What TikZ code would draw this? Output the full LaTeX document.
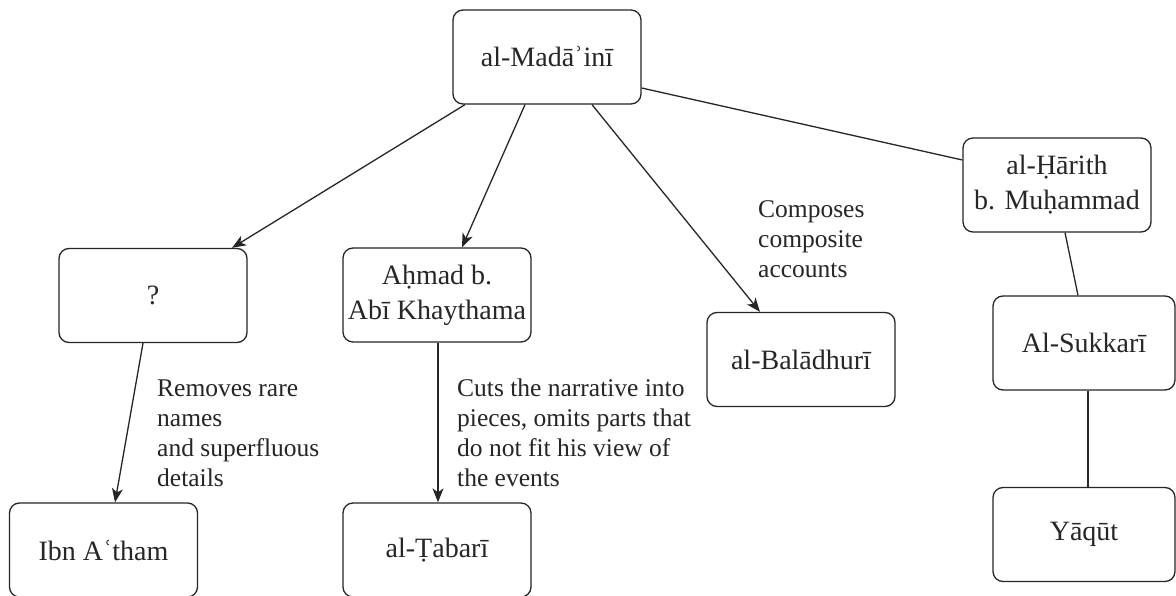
\documentclass[tikz,border=0pt]{standalone}
\usepackage{fontspec}
\setmainfont{Liberation Serif}
\usetikzlibrary{arrows.meta}
\begin{document}
\begin{tikzpicture}[x=1pt,y=-1pt,
  box/.style={draw=black!85, line width=1.3pt, rounded corners=10pt,
    minimum width=188pt, minimum height=94pt, inner sep=0pt, align=center,
    font=\fontsize{28}{35}\selectfont, text=black!85},
  conn/.style={draw=black!85, line width=1.3pt},
  arr/.style={conn, -{Stealth[length=14pt,width=11pt,inset=4pt]}},
  lbl/.style={anchor=base west, inner sep=0pt, font=\fontsize{25.5}{30}\selectfont, text=black!85}]
\useasboundingbox (0,0) rectangle (1176,596);
\fill[white] (0,0) rectangle (1176,596);

\node[box] (mad) at (547,57) {al-Madāʾinī};
\node[box] (q) at (153,295.5) {?};
\node[box] (ahm) at (437,295) {Aḥmad b.\\Abī Khaythama};
\node[box] (bal) at (801,359.5) {\raisebox{-4pt}{al-Balādhurī}};
\node[box] (har) at (1057,185) {al-Ḥārith\\b. Muḥammad};
\node[box, minimum width=182pt] (suk) at (1084,343) {Al-Sukkarī};
\node[box, minimum width=182pt] (yaq) at (1084,534.5) {Yāqūt};
\node[box] (iba) at (103.5,550) {Ibn Aʿtham};
\node[box] (tab) at (437,550) {al-Ṭabarī};

\draw[arr] ([xshift=-82pt]mad.south) -- ([xshift=79pt]q.north);
\draw[arr] ([xshift=-22pt]mad.south) -- ([xshift=25pt]ahm.north);
\draw[arr] ([xshift=45pt]mad.south) -- ([xshift=-41pt]bal.north);
\draw[conn] ([yshift=-31pt]mad.east) -- ([yshift=25pt]har.west);
\draw[conn] ([xshift=8pt]har.south) -- ([xshift=-6pt]suk.north);
\draw[conn] ([xshift=4pt]suk.south) -- ([xshift=4pt]yaq.north);
\draw[arr] ([xshift=-10pt]q.south) -- ([xshift=11.5pt]iba.north);
\draw[arr] ([xshift=1pt]ahm.south) -- ([xshift=1pt]tab.north);

\node[lbl] (l1) at (157,396) {\begin{tabular}[t]{@{}l@{}}Removes rare\\names\\and superfluous\\details\end{tabular}};
\node[lbl] (l2) at (457,396) {\begin{tabular}[t]{@{}l@{}}Cuts the narrative into\\pieces, omits parts that\\do not fit his view of\\the events\end{tabular}};
\node[lbl] (l3) at (758,218) {\begin{tabular}[t]{@{}l@{}}Composes\\composite\\accounts\end{tabular}};
\end{tikzpicture}
\end{document}
